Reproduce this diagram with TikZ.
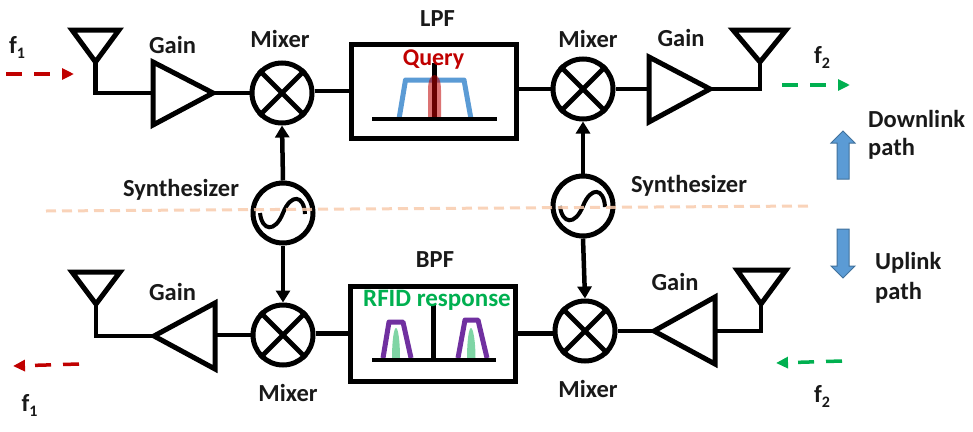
\documentclass[tikz,border=0pt]{standalone}
\usepackage{fontspec}
\setmainfont{Carlito}
\usetikzlibrary{arrows.meta}
\newcommand\subn[1]{\raisebox{-5pt}{\fontsize{16}{16}\selectfont #1}}
\definecolor{qred}{HTML}{C00000}
\definecolor{rgreen}{HTML}{00B050}
\definecolor{lblue}{HTML}{5B9BD5}
\definecolor{lpurple}{HTML}{7030A0}
\definecolor{lorange}{HTML}{F8CBAD}
\definecolor{bedge}{HTML}{41719C}
\definecolor{lgreen}{HTML}{7FD5A5}
\tikzset{
  x=1pt,y=-1pt,
  wire/.style={line width=4.8pt,black},
  sym/.style={line width=5pt,black,line join=miter},
  feed/.style={line width=4.5pt,black,-{Triangle[length=12pt,width=14pt]}},
  circ/.style={circle,draw=black,line width=5pt,minimum size=60pt,inner sep=0pt,fill=white},
  filterbox/.style={rectangle,draw=black,line width=5pt,inner sep=0pt,fill=white},
  lab/.style={font=\fontsize{24.5}{26}\selectfont\bfseries,inner sep=0pt,text=black!90},
  sideL/.style={lab,anchor=west,align=left},
  wave/.style={line width=3.5pt,dash pattern=on 16pt off 12pt,-{Triangle[length=12pt,width=11pt]}},
  fatarrow/.style={fill=lblue,draw=bedge,line width=1pt,line join=miter},
  axis/.style={line width=4.5pt,black},
}
\begin{document}
\begin{tikzpicture}
\useasboundingbox (0,0) rectangle (973,431);
% coordinates of triangles and antennas
\coordinate (ga1base) at (153,93);  \coordinate (ga1tip) at (213,93);
\coordinate (ga2base) at (649,89);  \coordinate (ga2tip) at (710,89);
\coordinate (ga3base) at (215,335); \coordinate (ga3tip) at (154,336);
\coordinate (ga4base) at (715,331); \coordinate (ga4tip) at (654,331);
\coordinate (an1) at (95.5,62);  \coordinate (an2) at (760,62);
\coordinate (an3) at (96,304);   \coordinate (an4) at (761,304);
% nodes
\node[circ] (m1) at (282,93) {};
\node[circ] (m2) at (583,89) {};
\node[circ] (m3) at (283,335) {};
\node[circ] (m4) at (585,331) {};
\node[circ] (s1) at (283,213) {};
\node[circ] (s2) at (583,206) {};
\node[filterbox,minimum width=165pt,minimum height=94pt] (lpf) at (433.5,91) {};
\node[filterbox,minimum width=165pt,minimum height=95pt] (bpf) at (432.5,333.5) {};
% crosses and sine waves
\foreach \m in {m1,m2,m3,m4}{
  \draw[wire] (\m.45) -- (\m.225) (\m.135) -- (\m.315);
}
\foreach \s in {s1,s2}{
  \draw[line width=4pt,black] ([shift={(-23,0)}]\s.center)
    .. controls +(2,18) and +(-8,20) .. (\s.center)
    .. controls +(8,-20) and +(-1,-19) .. ([shift={(22,1)}]\s.center);
}
% amplifiers and antennas
\draw[sym] (153,62) -- (153,125) -- (ga1tip) -- cycle;
\draw[sym] (649,57) -- (649,122) -- (ga2tip) -- cycle;
\draw[sym] (215,303) -- (215,369) -- (ga3tip) -- cycle;
\draw[sym] (715,297) -- (715,364) -- (ga4tip) -- cycle;
\draw[sym] (72,30) -- (119,30) -- (an1) -- cycle;
\draw[sym] (733,30) -- (786,30) -- (an2) -- cycle;
\draw[sym] (72,272) -- (120,272) -- (an3) -- cycle;
\draw[sym] (737,270) -- (786,270) -- (an4) -- cycle;
% connectors
\draw[wire,line join=miter] (an1) |- (ga1base);
\draw[wire] (ga1tip) -- (m1.west);
\draw[wire] (m1.east |- lpf.west) -- (lpf.west);
\draw[wire] (lpf.east |- m2.west) -- (m2.west);
\draw[wire] (m2.east) -- (ga2base);
\draw[wire,line join=miter] (ga2tip) -| (an2);
\draw[wire,line join=miter] (an3) |- (ga3tip);
\draw[wire] (ga3base) -- (m3.west);
\draw[wire] (m3.east |- bpf.west) -- (bpf.west);
\draw[wire] (bpf.east) -- (m4.west |- bpf.east);
\draw[wire] (m4.east) -- (ga4tip);
\draw[wire,line join=miter] (ga4base) -| (an4);
\draw[feed] (s1.north) -- (m1.south);
\draw[feed] (s1.south) -- (m3.north);
\draw[feed] (s2.north) -- (m2.south);
\draw[feed] (s2.south) -- (m4.north);
% LPF content
\coordinate (lpfaxl) at (372,119); \coordinate (lpfaxr) at (497,119); \coordinate (lpfc) at (434,119);
\coordinate (lpftop) at (434,63);
\draw[line width=5pt,lblue,line join=round] (399,119) -- (405.5,80) -- (464,80) -- (471,119);
\draw[line width=5pt,black] (lpfc) -- (lpftop);
\fill[qred,opacity=.55] (428,119) -- (428,90) .. controls (428,80) and (431,75) .. (434.5,75) .. controls (438,75) and (441,80) .. (441,90) -- (441,119) -- cycle;
\draw[axis] (lpfaxl) -- (lpfaxr);
\node[font=\fontsize{24}{26}\selectfont\bfseries,text=qred,inner sep=0pt] (query) at (433.5,60) {Query};
% BPF content
\coordinate (bpfaxl) at (372,360); \coordinate (bpfaxr) at (496,360); \coordinate (bpfc) at (433,360);
\coordinate (bpftop) at (433,305);
\draw[line width=5pt,black] (bpfc) -- (bpftop);
\fill[lgreen] (392,359) .. controls (392,340) and (394,328) .. (396,328) .. controls (398,328) and (400,340) .. (400,359) -- cycle;
\fill[lgreen] (467,359) .. controls (467,340) and (469,328) .. (471,328) .. controls (473,328) and (475.5,340) .. (475.5,359) -- cycle;
\draw[line width=5pt,lpurple,line join=round] (383,358) -- (389,322) -- (403,322) -- (411,358);
\draw[line width=5pt,lpurple,line join=round] (458,358) -- (465,320) -- (478,320) -- (487,358);
\draw[axis] (bpfaxl) -- (bpfaxr);
\node[font=\fontsize{25}{27}\selectfont\bfseries,text=rgreen,inner sep=0pt] (rfid) at (437,300) {RFID response};
% wave arrows
\coordinate (w1a) at (6,74);   \coordinate (w1b) at (74,74);
\coordinate (w2a) at (79,364); \coordinate (w2b) at (13,366);
\coordinate (w3a) at (782,85); \coordinate (w3b) at (850,85);
\coordinate (w4a) at (842,361);\coordinate (w4b) at (776,363);
\draw[wave,qred] (w1a) -- (w1b);
\draw[wave,qred] (w2a) -- (w2b);
\draw[wave,rgreen] (w3a) -- (w3b);
\draw[wave,rgreen] (w4a) -- (w4b);
% dashed divider
\coordinate (da) at (46,211); \coordinate (db) at (808,206);
\draw[lorange,opacity=.85,line width=3pt,dash pattern=on 10pt off 6pt] (da) -- (db);
% direction arrows
\draw[fatarrow] (843,131) -- (855,143) -- (849,143) -- (849,179) -- (837,179) -- (837,143) -- (831,143) -- cycle;
\draw[fatarrow] (843,278) -- (855,266) -- (849,266) -- (849,229) -- (837,229) -- (837,266) -- (831,266) -- cycle;
% labels
\node[lab] (lg1) at (172.5,45) {Gain};
\node[lab] (lm1) at (280,39) {Mixer};
\node[lab] (lf1) at (437.5,19) {LPF};
\node[lab] (lm2) at (588,39) {Mixer};
\node[lab] (lg2) at (681,38) {Gain};
\node[lab] (ls1) at (181,190) {Synthesizer};
\node[lab] (ls2) at (689,186) {Synthesizer};
\node[lab] (lf2) at (435,260) {BPF};
\node[lab] (lg3) at (172.5,292) {Gain};
\node[lab] (lg4) at (675,282) {Gain};
\node[lab] (lm3) at (288,393) {Mixer};
\node[lab] (lm4) at (588,389) {Mixer};
\node[lab] (f1a) at (17,47) {f\subn{1}};
\node[lab] (f1b) at (29.5,405) {f\subn{1}};
\node[lab] (f2a) at (822,57) {f\subn{2}};
\node[lab] (f2b) at (822,396) {f\subn{2}};
\node[sideL] (dl1) at (868,119) {Downlink};
\node[sideL] (dl2) at (868,149) {path};
\node[sideL] (ul1) at (875,263) {Uplink};
\node[sideL] (ul2) at (875,293) {path};
\end{tikzpicture}
\end{document}
